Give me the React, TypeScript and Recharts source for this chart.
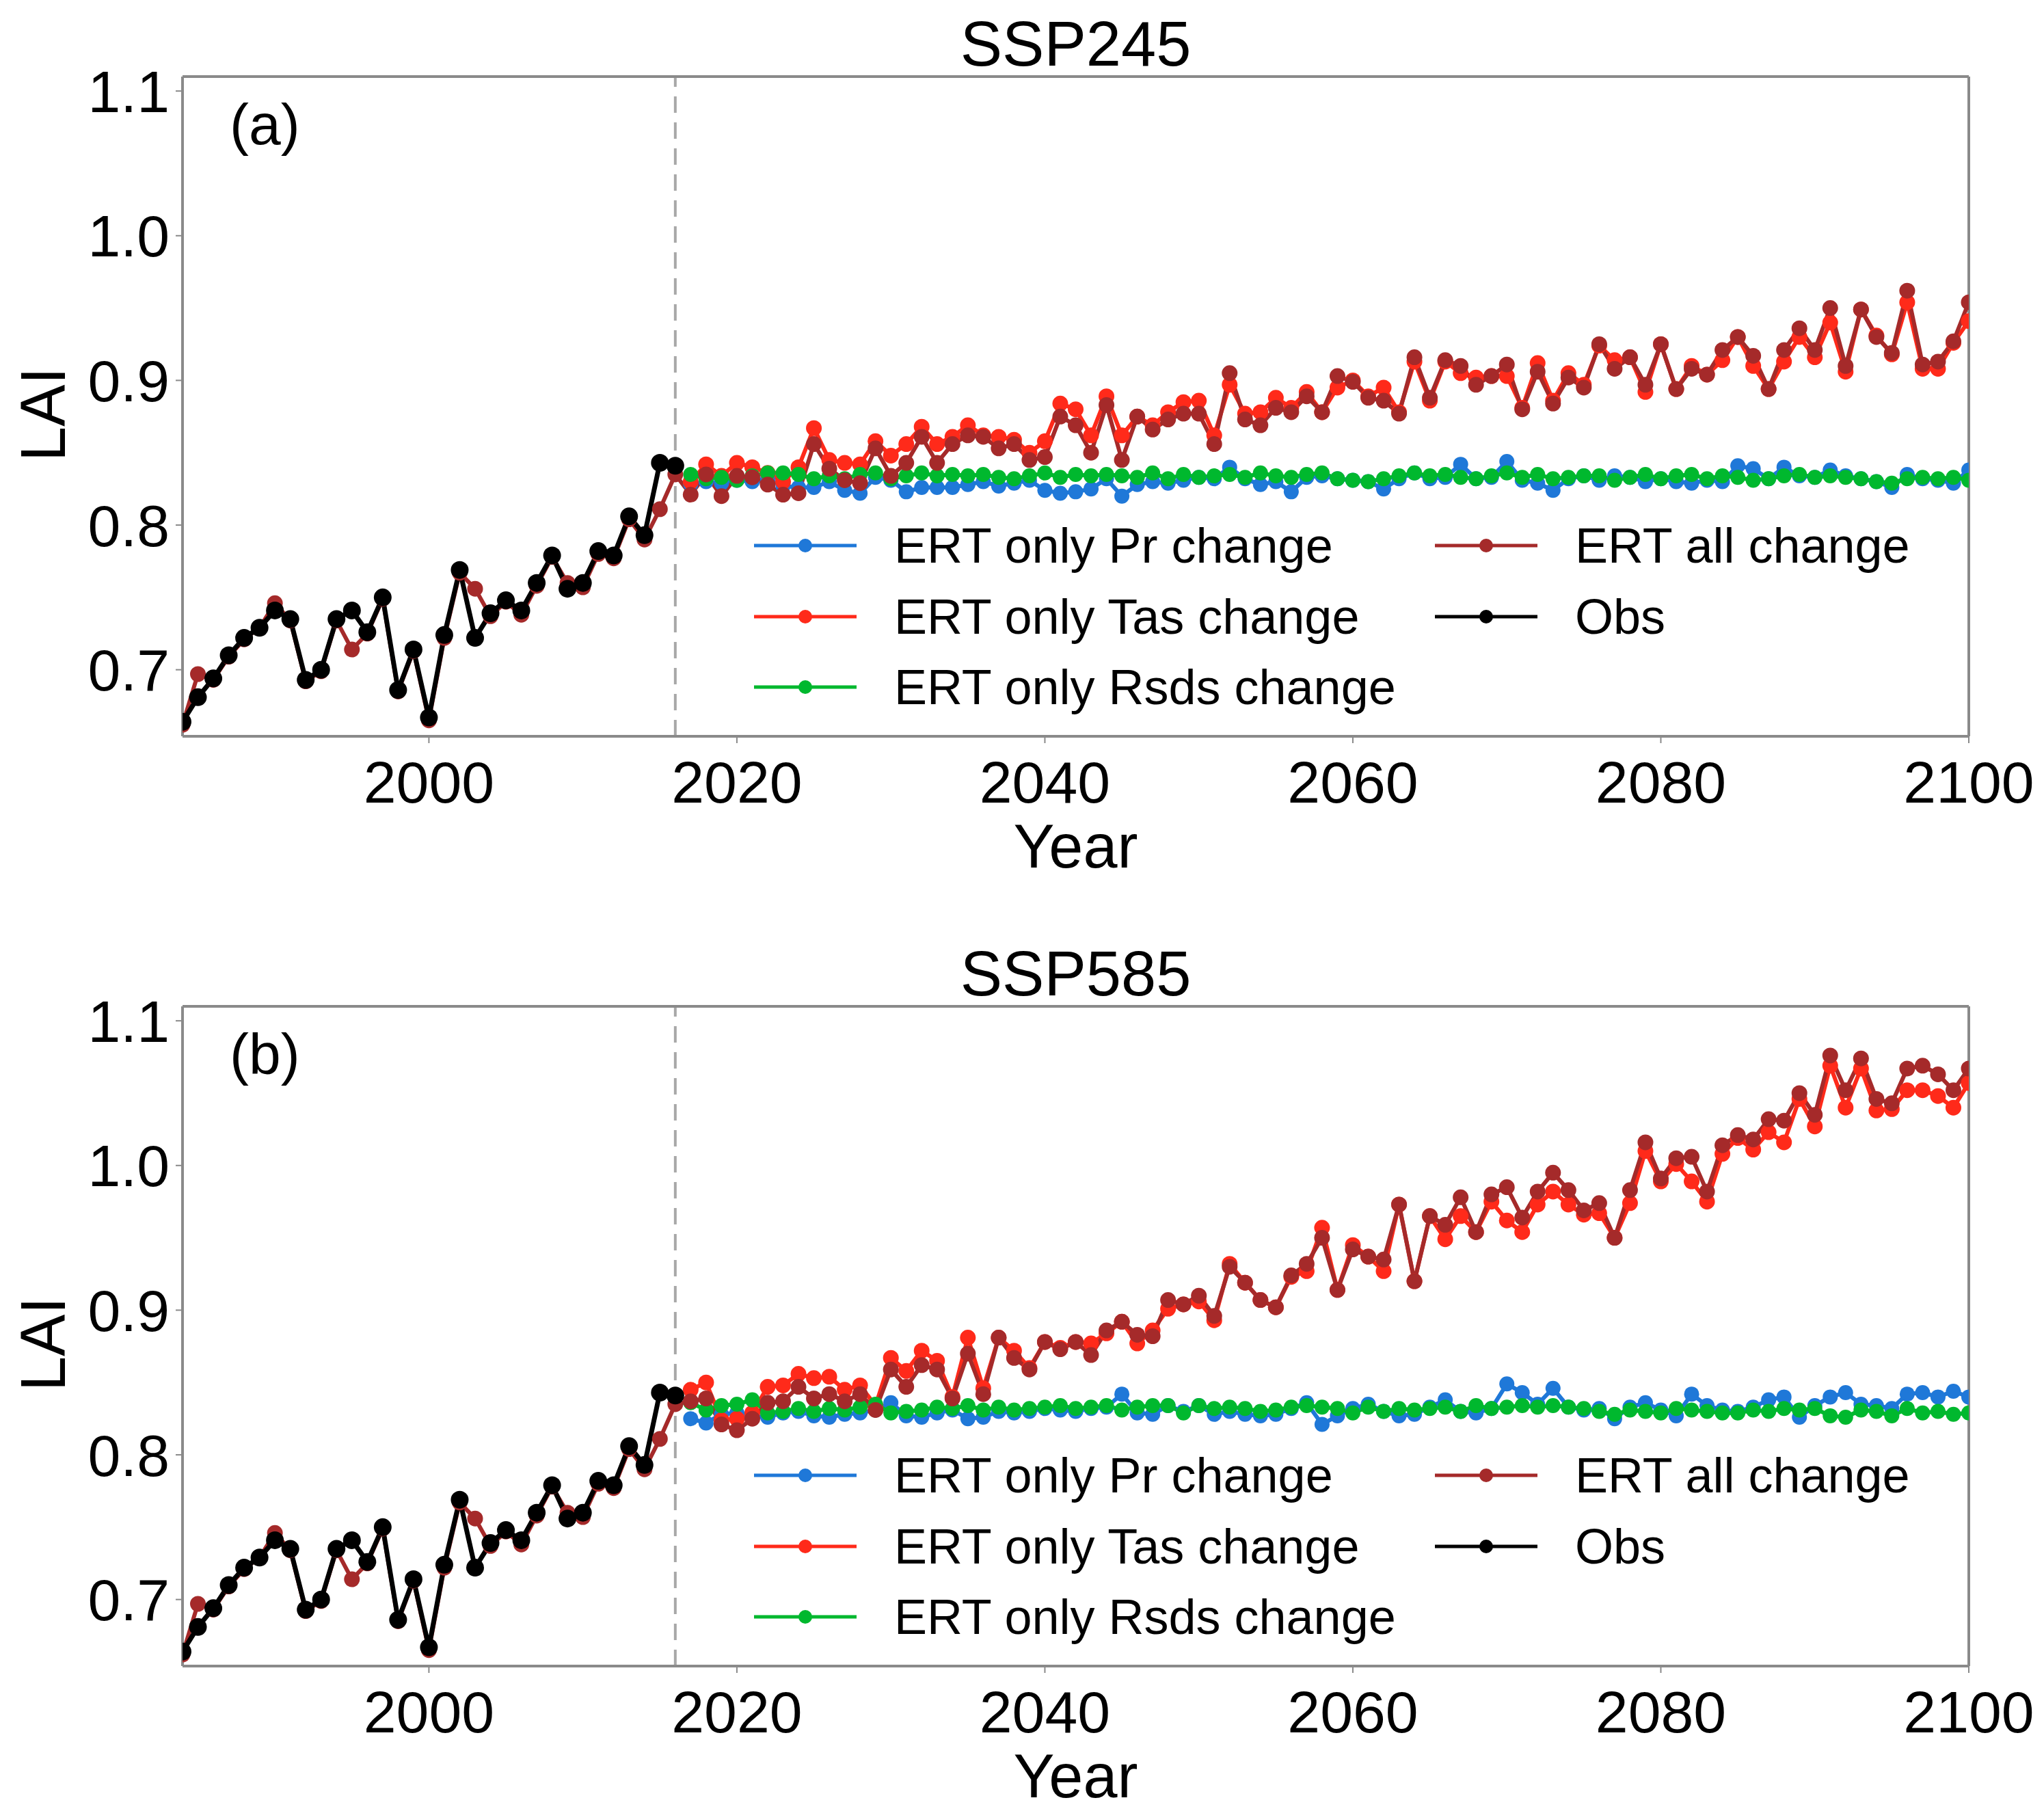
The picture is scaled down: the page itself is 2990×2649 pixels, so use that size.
import React from 'react';
import { LineChart, Line, XAxis, YAxis, ReferenceLine, Legend } from 'recharts';

const FONT = '"Liberation Sans", Arial, Helvetica, sans-serif';
const AXIS = '#8a8a8a';

const HIST_START = 1984;
const FUT_START = 2017;
const X_DOMAIN = [1984, 2100];
const Y_DOMAIN = [0.654, 1.11];
const X_TICKS = [2000, 2020, 2040, 2060, 2080, 2100];
const Y_TICKS = [0.7, 0.8, 0.9, 1.0, 1.1];
const SPLIT_YEAR = 2016;

// Historical (1984-2016)
const obsHist = [0.664, 0.681, 0.694, 0.710, 0.722, 0.729, 0.741, 0.735, 0.693, 0.700, 0.735, 0.741, 0.726, 0.750, 0.686, 0.714, 0.667, 0.724, 0.769, 0.722, 0.739, 0.748, 0.741, 0.760, 0.779, 0.756, 0.760, 0.782, 0.779, 0.806, 0.793, 0.843, 0.841];
const allHist = [0.662, 0.697, 0.693, 0.709, 0.721, 0.729, 0.746, 0.734, 0.692, 0.699, 0.734, 0.714, 0.725, 0.749, 0.685, 0.713, 0.665, 0.722, 0.767, 0.756, 0.737, 0.747, 0.738, 0.758, 0.778, 0.760, 0.757, 0.780, 0.777, 0.804, 0.790, 0.811, 0.835];

// SSP245 (2017-2100)
const all245 = [0.821, 0.835, 0.820, 0.834, 0.833, 0.828, 0.821, 0.822, 0.856, 0.839, 0.831, 0.829, 0.853, 0.834, 0.843, 0.861, 0.843, 0.856, 0.862, 0.861, 0.853, 0.856, 0.845, 0.847, 0.875, 0.869, 0.850, 0.883, 0.845, 0.875, 0.866, 0.873, 0.877, 0.877, 0.856, 0.905, 0.873, 0.869, 0.881, 0.878, 0.889, 0.878, 0.903, 0.899, 0.888, 0.886, 0.877, 0.916, 0.888, 0.914, 0.910, 0.897, 0.903, 0.911, 0.880, 0.906, 0.884, 0.902, 0.895, 0.925, 0.908, 0.916, 0.897, 0.925, 0.894, 0.908, 0.904, 0.921, 0.930, 0.917, 0.894, 0.921, 0.936, 0.921, 0.950, 0.910, 0.949, 0.930, 0.919, 0.962, 0.911, 0.913, 0.927, 0.954];
const tas245 = [0.830, 0.842, 0.834, 0.843, 0.840, 0.836, 0.830, 0.840, 0.867, 0.845, 0.843, 0.842, 0.858, 0.848, 0.856, 0.868, 0.856, 0.861, 0.869, 0.862, 0.861, 0.859, 0.850, 0.858, 0.884, 0.880, 0.862, 0.889, 0.862, 0.875, 0.869, 0.878, 0.885, 0.886, 0.862, 0.897, 0.877, 0.878, 0.888, 0.881, 0.892, 0.878, 0.895, 0.900, 0.889, 0.895, 0.878, 0.913, 0.886, 0.913, 0.905, 0.902, 0.903, 0.903, 0.881, 0.912, 0.886, 0.905, 0.897, 0.924, 0.914, 0.916, 0.892, 0.925, 0.894, 0.910, 0.904, 0.914, 0.930, 0.910, 0.894, 0.913, 0.930, 0.916, 0.940, 0.906, 0.949, 0.931, 0.918, 0.954, 0.908, 0.908, 0.926, 0.941];
const pr245 = [0.828, 0.830, 0.829, 0.831, 0.830, 0.832, 0.827, 0.826, 0.826, 0.830, 0.824, 0.822, 0.833, 0.831, 0.823, 0.826, 0.826, 0.826, 0.828, 0.830, 0.827, 0.829, 0.831, 0.824, 0.822, 0.823, 0.825, 0.832, 0.820, 0.828, 0.830, 0.829, 0.831, 0.833, 0.832, 0.840, 0.832, 0.828, 0.830, 0.823, 0.833, 0.834, 0.832, 0.831, 0.830, 0.825, 0.832, 0.836, 0.832, 0.833, 0.842, 0.832, 0.833, 0.844, 0.831, 0.829, 0.824, 0.832, 0.834, 0.831, 0.834, 0.833, 0.830, 0.832, 0.830, 0.829, 0.831, 0.830, 0.841, 0.839, 0.832, 0.840, 0.834, 0.833, 0.838, 0.834, 0.832, 0.830, 0.826, 0.835, 0.832, 0.831, 0.829, 0.838];
const rsds245 = [0.835, 0.832, 0.833, 0.831, 0.834, 0.836, 0.836, 0.835, 0.832, 0.834, 0.832, 0.835, 0.836, 0.832, 0.834, 0.836, 0.834, 0.835, 0.834, 0.835, 0.833, 0.832, 0.834, 0.836, 0.833, 0.835, 0.834, 0.835, 0.834, 0.833, 0.836, 0.832, 0.835, 0.833, 0.834, 0.835, 0.833, 0.836, 0.834, 0.833, 0.835, 0.836, 0.832, 0.831, 0.830, 0.832, 0.834, 0.836, 0.834, 0.835, 0.833, 0.832, 0.834, 0.836, 0.833, 0.835, 0.832, 0.833, 0.834, 0.834, 0.831, 0.833, 0.835, 0.832, 0.834, 0.835, 0.832, 0.834, 0.833, 0.831, 0.832, 0.834, 0.835, 0.833, 0.834, 0.833, 0.832, 0.830, 0.829, 0.832, 0.833, 0.832, 0.833, 0.831];

// SSP585 (2017-2100)
const all585 = [0.837, 0.839, 0.821, 0.817, 0.825, 0.836, 0.837, 0.847, 0.839, 0.842, 0.837, 0.842, 0.831, 0.859, 0.847, 0.862, 0.859, 0.839, 0.870, 0.842, 0.881, 0.867, 0.859, 0.878, 0.873, 0.878, 0.869, 0.886, 0.892, 0.883, 0.882, 0.907, 0.904, 0.910, 0.896, 0.930, 0.919, 0.907, 0.902, 0.924, 0.932, 0.950, 0.914, 0.942, 0.937, 0.935, 0.973, 0.920, 0.965, 0.959, 0.978, 0.954, 0.980, 0.985, 0.964, 0.982, 0.995, 0.983, 0.969, 0.974, 0.950, 0.983, 1.016, 0.991, 1.005, 1.006, 0.982, 1.014, 1.021, 1.018, 1.032, 1.031, 1.050, 1.035, 1.076, 1.052, 1.074, 1.046, 1.043, 1.067, 1.069, 1.063, 1.052, 1.067];
const tas585 = [0.845, 0.850, 0.824, 0.825, 0.829, 0.847, 0.848, 0.856, 0.853, 0.854, 0.845, 0.848, 0.834, 0.867, 0.858, 0.872, 0.865, 0.840, 0.881, 0.846, 0.881, 0.872, 0.860, 0.878, 0.874, 0.878, 0.877, 0.884, 0.892, 0.877, 0.886, 0.901, 0.904, 0.906, 0.893, 0.932, 0.919, 0.907, 0.902, 0.923, 0.927, 0.957, 0.914, 0.945, 0.937, 0.927, 0.973, 0.920, 0.965, 0.949, 0.965, 0.954, 0.975, 0.962, 0.954, 0.973, 0.982, 0.973, 0.966, 0.967, 0.950, 0.974, 1.010, 0.989, 1.001, 0.989, 0.975, 1.008, 1.019, 1.011, 1.023, 1.016, 1.046, 1.027, 1.069, 1.040, 1.067, 1.038, 1.039, 1.052, 1.052, 1.048, 1.040, 1.057];
const pr585 = [0.825, 0.822, 0.828, 0.829, 0.827, 0.826, 0.829, 0.830, 0.827, 0.826, 0.828, 0.829, 0.831, 0.836, 0.827, 0.826, 0.829, 0.831, 0.825, 0.826, 0.830, 0.829, 0.830, 0.832, 0.831, 0.830, 0.832, 0.833, 0.842, 0.829, 0.828, 0.834, 0.830, 0.834, 0.828, 0.830, 0.828, 0.827, 0.828, 0.832, 0.836, 0.821, 0.827, 0.832, 0.835, 0.830, 0.827, 0.828, 0.833, 0.838, 0.830, 0.829, 0.832, 0.849, 0.843, 0.835, 0.846, 0.833, 0.831, 0.832, 0.825, 0.833, 0.836, 0.831, 0.827, 0.842, 0.834, 0.831, 0.830, 0.833, 0.838, 0.840, 0.826, 0.834, 0.840, 0.843, 0.835, 0.834, 0.832, 0.842, 0.843, 0.840, 0.844, 0.840];
const rsds585 = [0.836, 0.831, 0.834, 0.835, 0.838, 0.829, 0.830, 0.832, 0.830, 0.832, 0.831, 0.833, 0.835, 0.829, 0.830, 0.831, 0.833, 0.832, 0.834, 0.831, 0.833, 0.831, 0.832, 0.833, 0.834, 0.832, 0.833, 0.834, 0.831, 0.833, 0.834, 0.834, 0.829, 0.834, 0.832, 0.833, 0.832, 0.830, 0.831, 0.833, 0.834, 0.833, 0.832, 0.829, 0.833, 0.830, 0.832, 0.831, 0.832, 0.833, 0.830, 0.834, 0.832, 0.833, 0.834, 0.833, 0.834, 0.833, 0.832, 0.830, 0.828, 0.831, 0.830, 0.829, 0.832, 0.831, 0.830, 0.829, 0.829, 0.831, 0.830, 0.832, 0.831, 0.832, 0.827, 0.826, 0.831, 0.830, 0.827, 0.832, 0.829, 0.830, 0.828, 0.829];

const SERIES = [
  { key: 'pr', name: 'ERT only Pr change', color: '#1f78d8', width: 6, r: 11 },
  { key: 'tas', name: 'ERT only Tas change', color: '#ff2a1a', width: 6, r: 11.5 },
  { key: 'rsds', name: 'ERT only Rsds change', color: '#00b82e', width: 6, r: 11 },
  { key: 'all', name: 'ERT all change', color: '#a52a2a', width: 6, r: 11.5 },
  { key: 'obs', name: 'Obs', color: '#000000', width: 7, r: 13 },
];

const LEGEND_COLS = [['pr', 'tas', 'rsds'], ['all', 'obs']];

function buildRows(pr: number[], tas: number[], rsds: number[], all: number[]) {
  const rows: any[] = [];
  for (let i = 0; i < obsHist.length; i++) {
    rows.push({ year: HIST_START + i, obs: obsHist[i], all: allHist[i] });
  }
  for (let j = 0; j < all.length; j++) {
    rows.push({ year: FUT_START + j, pr: pr[j], tas: tas[j], rsds: rsds[j], all: all[j] });
  }
  return rows;
}

const data245 = buildRows(pr245, tas245, rsds245, all245);
const data585 = buildRows(pr585, tas585, rsds585, all585);

const renderLegend = () => (
  <div style={{ position: 'relative', width: 1800, height: 320, fontFamily: FONT }}>
    {LEGEND_COLS.map((col, ci) =>
      col.map((k, ri) => {
        const s = SERIES.find((x) => x.key === k)!;
        return (
          <div
            key={k}
            style={{ position: 'absolute', left: ci * 996, top: ri * 103.5, height: 80, display: 'flex', alignItems: 'center' }}
          >
            <svg width={150} height={40} style={{ display: 'block' }}>
              <line x1={0} y1={20} x2={150} y2={20} stroke={s.color} strokeWidth={5} />
              <circle cx={75} cy={20} r={10} fill={s.color} />
            </svg>
            <span style={{ marginLeft: 55, fontSize: 72, lineHeight: '80px', whiteSpace: 'nowrap', color: '#000' }}>{s.name}</span>
          </div>
        );
      })
    )}
  </div>
);

function Panel({ data, height, bottom }: { data: any[]; height: number; bottom: number }) {
  return (
    <LineChart width={2990} height={height} data={data} margin={{ top: 110, right: 108, bottom: bottom - 2, left: 265 }}>
      <XAxis
        dataKey="year"
        type="number"
        domain={X_DOMAIN}
        ticks={X_TICKS}
        allowDataOverflow
        height={2}
        tickSize={10}
        tickMargin={26}
        stroke={AXIS}
        axisLine={{ stroke: AXIS, strokeWidth: 4 }}
        tickLine={{ stroke: AXIS, strokeWidth: 2 }}
        tick={{ fill: '#000', fontSize: 86, fontFamily: FONT }}
      />
      <XAxis
        xAxisId="top"
        orientation="top"
        type="number"
        domain={X_DOMAIN}
        allowDataOverflow
        height={2}
        tick={false}
        tickLine={false}
        axisLine={{ stroke: AXIS, strokeWidth: 4 }}
      />
      <YAxis
        type="number"
        domain={Y_DOMAIN}
        ticks={Y_TICKS}
        allowDataOverflow
        width={2}
        tickSize={10}
        tickMargin={9}
        tickFormatter={(v: number) => v.toFixed(1)}
        stroke={AXIS}
        axisLine={{ stroke: AXIS, strokeWidth: 4 }}
        tickLine={{ stroke: AXIS, strokeWidth: 2 }}
        tick={{ fill: '#000', fontSize: 86, fontFamily: FONT }}
      />
      <YAxis
        yAxisId="right"
        orientation="right"
        type="number"
        domain={Y_DOMAIN}
        allowDataOverflow
        width={2}
        tick={false}
        tickLine={false}
        axisLine={{ stroke: AXIS, strokeWidth: 4 }}
      />
      <ReferenceLine x={SPLIT_YEAR} stroke="#a8a8a8" strokeWidth={4} strokeDasharray="24 14" />
      {SERIES.map((s) => (
        <Line
          key={s.key}
          type="linear"
          dataKey={s.key}
          name={s.name}
          stroke={s.color}
          strokeWidth={s.width}
          dot={{ r: s.r, fill: s.color, stroke: s.color, strokeWidth: 0 }}
          activeDot={false}
          isAnimationActive={false}
        />
      ))}
      <Legend
        layout="vertical"
        align="center"
        verticalAlign="middle"
        content={renderLegend}
        wrapperStyle={{ left: 1103, top: 758, width: 1800, height: 320 }}
      />
    </LineChart>
  );
}

const textBase: React.CSSProperties = { position: 'absolute', fontFamily: FONT, color: '#000', whiteSpace: 'nowrap' };

function PanelText({ offset, title, tag }: { offset: number; title: string; tag: string }) {
  return (
    <>
      <div style={{ ...textBase, left: 573.5, width: 2000, textAlign: 'center', top: 18 + offset, fontSize: 92, lineHeight: '92px' }}>{title}</div>
      <div style={{ ...textBase, left: 336, top: 140 + offset, fontSize: 84, lineHeight: '84px' }}>{tag}</div>
      <div style={{ ...textBase, left: 573.5, width: 2000, textAlign: 'center', top: 1193 + offset, fontSize: 90, lineHeight: '90px' }}>Year</div>
      <div
        style={{
          ...textBase,
          left: 63 - 200,
          width: 400,
          textAlign: 'center',
          top: 561 + offset,
          height: 90,
          fontSize: 92,
          lineHeight: '90px',
          transform: 'rotate(-90deg)',
        }}
      >
        LAI
      </div>
    </>
  );
}

export default function App() {
  return (
    <div style={{ position: 'absolute', left: 0, top: 0, width: 2990, height: 2649, background: '#fff', overflow: 'hidden' }}>
      <div style={{ position: 'absolute', left: 0, top: 0 }}>
        <Panel data={data245} height={1360} bottom={283} />
      </div>
      <div style={{ position: 'absolute', left: 0, top: 1360 }}>
        <Panel data={data585} height={1289} bottom={212} />
      </div>
      <PanelText offset={0} title="SSP245" tag="(a)" />
      <PanelText offset={1360} title="SSP585" tag="(b)" />
    </div>
  );
}
